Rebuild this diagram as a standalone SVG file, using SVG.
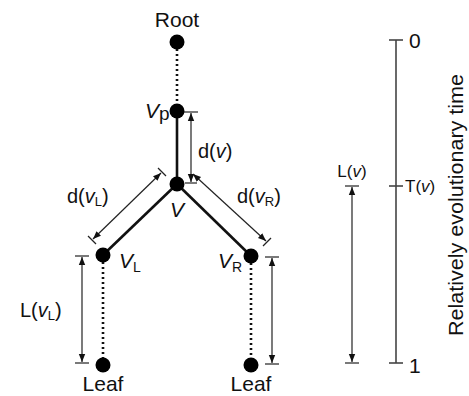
<svg xmlns="http://www.w3.org/2000/svg" width="469" height="396" viewBox="0 0 469 396">
<defs>
<marker id="ah" viewBox="0 0 10 10" refX="10" refY="5" markerWidth="8" markerHeight="8" markerUnits="userSpaceOnUse" orient="auto-start-reverse">
<path d="M0,1 L10,5 L0,9 Z" fill="#111"/>
</marker>
<style>
text{font-family:"Liberation Sans",Arial,sans-serif;fill:#111}
.node{fill:#000}
.edge{stroke:#111;stroke-width:2.6;fill:none}
.dot{stroke:#111;stroke-width:2.6;stroke-dasharray:2,3;fill:none}
.dim{stroke:#222;stroke-width:1.2;fill:none}
.arr{stroke:#222;stroke-width:1.2;fill:none;marker-start:url(#ah);marker-end:url(#ah)}
.axis{stroke:#444;stroke-width:1.6;fill:none}
.big{font-size:21px}
.mid{font-size:20px}
.sm{font-size:17px}
.it{font-style:italic}
</style>
</defs>
<rect width="469" height="396" fill="#fff"/>
<g id="connectors">
<line class="dot" x1="177" y1="49" x2="177" y2="104"/>
<line class="edge" x1="177" y1="111" x2="177" y2="184"/>
<line class="edge" x1="177" y1="184" x2="103" y2="255"/>
<line class="edge" x1="177" y1="184" x2="251" y2="256"/>
<line class="dot" x1="103" y1="262" x2="103" y2="358"/>
<line class="dot" x1="251" y1="263" x2="251" y2="358"/>
<line class="dim" x1="184" y1="112" x2="198" y2="112"/>
<line class="dim" x1="185" y1="183" x2="197" y2="183"/>
<line class="arr" x1="191" y1="113" x2="191" y2="182"/>
<line class="dim" x1="158" y1="168" x2="166" y2="176"/>
<line class="dim" x1="88" y1="236" x2="96" y2="244"/>
<line class="arr" x1="161" y1="173" x2="93" y2="239"/>
<line class="dim" x1="263" y1="246" x2="271" y2="238"/>
<line class="arr" x1="193" y1="174" x2="266" y2="241"/>
<line class="dim" x1="75" y1="256" x2="89" y2="256"/>
<line class="dim" x1="75" y1="363" x2="89" y2="363"/>
<line class="arr" x1="82" y1="257" x2="82" y2="362"/>
<line class="dim" x1="265" y1="257" x2="279" y2="257"/>
<line class="dim" x1="265" y1="364" x2="279" y2="364"/>
<line class="arr" x1="272" y1="258" x2="272" y2="363"/>
<line class="dim" x1="345" y1="186" x2="359" y2="186"/>
<line class="dim" x1="345" y1="363" x2="359" y2="363"/>
<line class="arr" x1="352" y1="187" x2="352" y2="362"/>
<line class="axis" x1="396" y1="40" x2="396" y2="363"/>
<line class="axis" x1="389" y1="40" x2="403" y2="40"/>
<line class="axis" x1="389" y1="186" x2="403" y2="186"/>
<line class="axis" x1="389" y1="363" x2="403" y2="363"/>
</g>
<g id="root"><circle class="node" cx="177" cy="42" r="7.5"/><text class="big" x="177" y="27" text-anchor="middle">Root</text></g>
<g id="vp"><circle class="node" cx="177" cy="111" r="7.5"/><text class="big" x="145" y="118"><tspan class="it">V</tspan><tspan font-size="19" dy="2">p</tspan></text></g>
<g id="v"><circle class="node" cx="177" cy="184" r="7.5"/><text class="big it" x="177" y="217" text-anchor="middle">V</text></g>
<g id="vl"><circle class="node" cx="103" cy="255" r="7.5"/><text class="big" x="119" y="268"><tspan class="it">V</tspan><tspan font-size="14" dy="4">L</tspan></text></g>
<g id="vr"><circle class="node" cx="251" cy="256" r="7.5"/><text class="big" x="218" y="268"><tspan class="it">V</tspan><tspan font-size="14" dy="4">R</tspan></text></g>
<g id="leafL"><circle class="node" cx="103" cy="365" r="7.5"/><text class="big" x="103" y="391" text-anchor="middle">Leaf</text></g>
<g id="leafR"><circle class="node" cx="251" cy="365" r="7.5"/><text class="big" x="251" y="391" text-anchor="middle">Leaf</text></g>
<g id="labels">
<text class="mid" x="198" y="158">d(<tspan class="it">v</tspan>)</text>
<text class="mid" x="67" y="203">d(<tspan class="it">v</tspan><tspan font-size="13" dy="3">L</tspan><tspan dy="-3">)</tspan></text>
<text class="mid" x="237" y="203">d(<tspan class="it">v</tspan><tspan font-size="13" dy="3">R</tspan><tspan dy="-3">)</tspan></text>
<text class="mid" x="20" y="317">L(<tspan class="it">v</tspan><tspan font-size="13" dy="3">L</tspan><tspan dy="-3">)</tspan></text>
<text class="sm" x="352" y="177" text-anchor="middle">L(<tspan class="it">v</tspan>)</text>
<text class="sm" x="405" y="192">T(<tspan class="it">v</tspan>)</text>
<text class="big" x="409" y="48">0</text>
<text class="big" x="409" y="373">1</text>
<text class="mid" transform="translate(463,205) rotate(-90)" text-anchor="middle" textLength="262" lengthAdjust="spacingAndGlyphs">Relatively evolutionary time</text>
</g>
</svg>
